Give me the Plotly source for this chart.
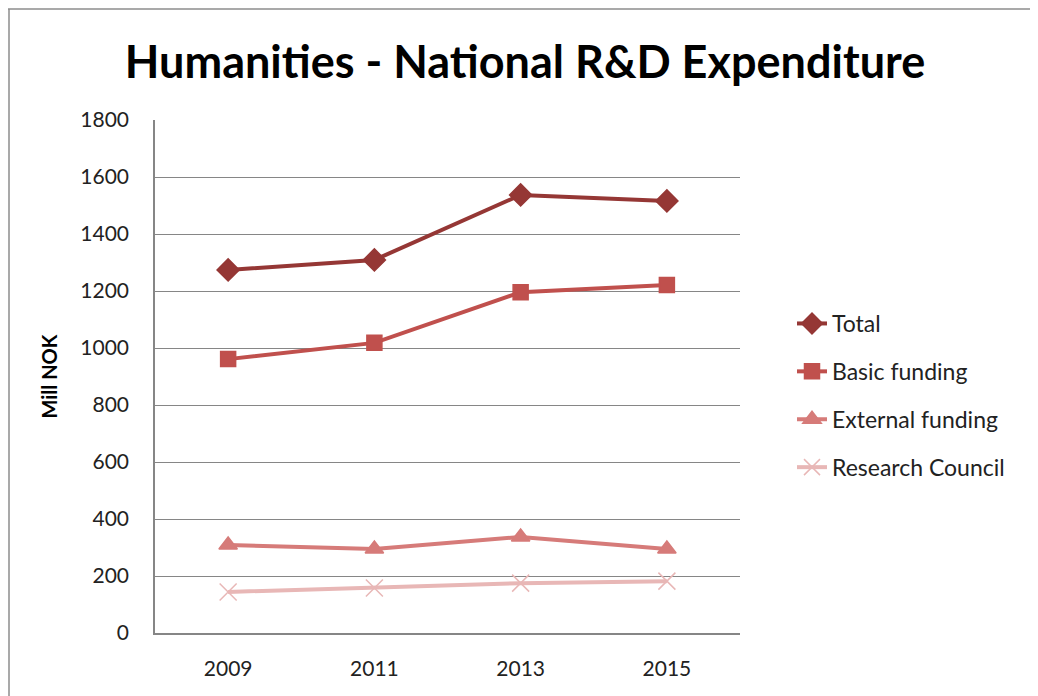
import plotly.graph_objects as go

years = ["2009", "2011", "2013", "2015"]
total = [1274, 1309, 1537, 1516]
basic = [961, 1018, 1196, 1221]
external = [309, 295, 337, 295]
research = [144, 158, 175, 182]
y_ticks = [0, 200, 400, 600, 800, 1000, 1200, 1400, 1600, 1800]

series = [
    ("Total", total, "#953735", "diamond", 17),
    ("Basic funding", basic, "#C0504D", "square", 15),
    ("External funding", external, "#D67B79", "triangle-up", 16),
    ("Research Council", research, "#E8B7B6", "x-thin", 17),
]

fig = go.Figure()
for i, (name, vals, col, sym, size) in enumerate(series):
    fig.add_trace(go.Scatter(
        x=years, y=vals, name=name, mode="lines+markers",
        line=dict(color=col, width=4),
        marker=dict(symbol=sym, size=size, color=col, line=dict(color=col, width=1.5)),
        legendgroup=name,
    ))

# page body has an 8px margin, so layout px = screen px - 8
fig.update_layout(
    width=1038, height=696,
    margin=dict(l=147, r=306, t=112, b=71),
    paper_bgcolor="white", plot_bgcolor="white",
    font=dict(family="Lato, Open Sans, sans-serif", color="#222"),
    title=dict(text="<b>Humanities - National R&D Expenditure</b>",
               x=(525 - 8) / 1038, xanchor="center", y=1 - (62 - 8) / 696, yanchor="middle",
               font=dict(size=45, color="#000", family="Lato, Open Sans, sans-serif")),
    xaxis=dict(type="category", range=[-0.5, 3.5], showgrid=False, showline=True,
               linecolor="#868686", linewidth=1.5, ticks="",
               tickfont=dict(size=21, color="#222"), ticklabelstandoff=16),
    yaxis=dict(range=[0, 1800], tickvals=y_ticks, showgrid=True, gridcolor="#868686",
               gridwidth=1.3, showline=True, linecolor="#868686", linewidth=1.5,
               zeroline=False, ticks="", tickfont=dict(size=21, color="#222"),
               ticklabelstandoff=20,
               title=dict(text="<b>Mill NOK</b>", font=dict(size=20, color="#000"), standoff=17)),
    legend=dict(x=(792 - 155) / 585, y=(633 - 302) / 513, xanchor="left", yanchor="top",
                font=dict(size=23, color="#222"), traceorder="grouped",
                tracegroupgap=15, bgcolor="rgba(0,0,0,0)"),
    shapes=[
        dict(type="line", xref="paper", yref="paper", x0=-147 / 585, x1=(1038 - 147) / 585,
             y0=(625 - 1) / 513, y1=(625 - 1) / 513, line=dict(color="#8c8c8c", width=1.5)),
        dict(type="line", xref="paper", yref="paper", x0=(-147 + 1) / 585, x1=(-147 + 1) / 585,
             y0=(625 - 1) / 513, y1=-71 / 513, line=dict(color="#8c8c8c", width=1.5)),
    ],
)

fig.write_html("out.html")
